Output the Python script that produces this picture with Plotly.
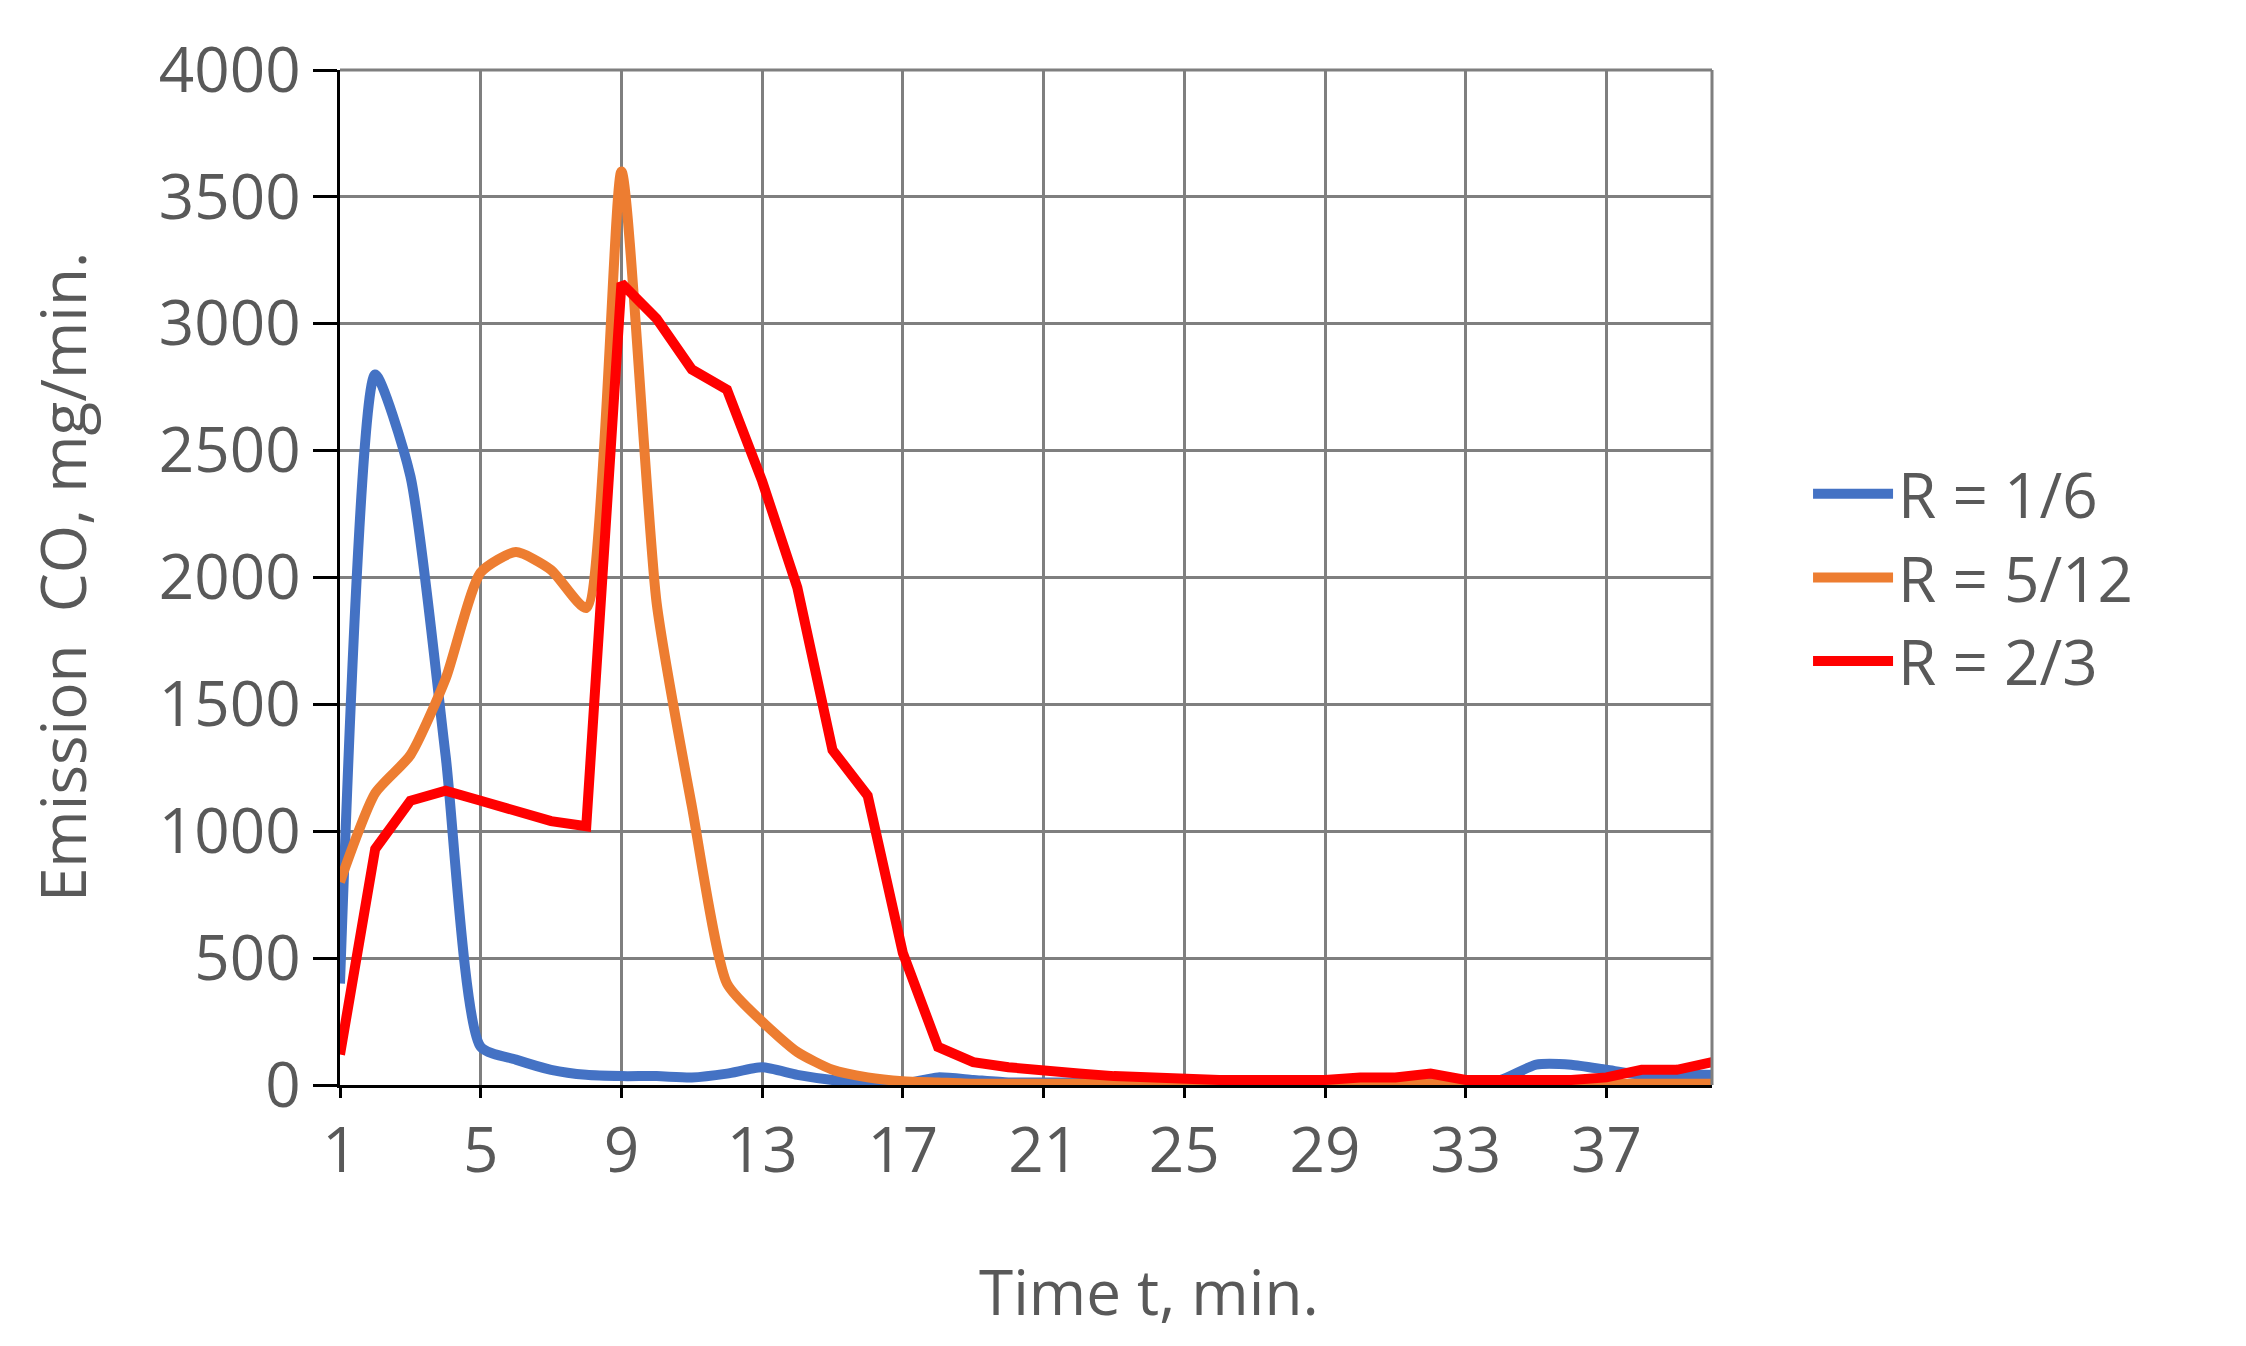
import plotly.graph_objects as go

t = list(range(1, 41))
blue = [400, 2800, 2400, 1300, 150, 100, 60, 40, 35, 35, 30, 45, 70, 40, 20, 10, 5, 30, 20, 10,
        10, 10, 10, 10, 10, 10, 10, 10, 10, 10, 10, 10, 10, 20, 80, 80, 60, 40, 40, 40]
orange = [800, 1150, 1300, 1600, 2020, 2100, 2030, 1880, 3600, 1900, 1100, 400, 250, 130, 60, 30, 15, 10, 5, 5,
          5, 5, 5, 5, 5, 5, 5, 5, 5, 5, 5, 5, 5, 5, 5, 5, 5, 5, 5, 5]
red = [120, 930, 1120, 1160, 1120, 1080, 1040, 1020, 3160, 3020, 2820, 2740, 2380, 1960, 1320, 1140, 520, 150, 90, 70,
       55, 45, 35, 30, 20, 20, 20, 20, 20, 30, 30, 45, 20, 20, 20, 20, 30, 60, 60, 90]
xticks = list(range(1, 41, 4))

fig = go.Figure()
fig.add_trace(go.Scatter(x=t, y=blue, name="R = 1/6", mode="lines",
                         line=dict(color="#4472C4", width=10, shape="spline", smoothing=0.6)))
fig.add_trace(go.Scatter(x=t, y=orange, name="R = 5/12", mode="lines",
                         line=dict(color="#ED7D31", width=10, shape="spline", smoothing=0.6)))
fig.add_trace(go.Scatter(x=t, y=red, name="R = 2/3", mode="lines",
                         line=dict(color="#FF0000", width=10)))

fig.update_layout(
    width=2246, height=1346, plot_bgcolor="white", paper_bgcolor="white",
    margin=dict(l=332, r=542, t=62, b=269),
    font=dict(family="Open Sans", size=62, color="#595959"),
    showlegend=True,
    legend=dict(x=1.07, y=0.5, yanchor="middle", xanchor="left", font=dict(size=62),
                itemwidth=80, tracegroupgap=40),
)
fig.update_xaxes(range=[1, 40], tickvals=xticks, showgrid=True, gridcolor="#7f7f7f", gridwidth=3,
                 showline=True, linecolor="black", linewidth=3, mirror=False,
                 ticks="outside", ticklen=10, tickcolor="black", tickwidth=3, zeroline=False)
fig.update_yaxes(range=[0, 4000], dtick=500, showgrid=True, gridcolor="#7f7f7f", gridwidth=3,
                 showline=True, linecolor="black", linewidth=3,
                 ticks="outside", ticklen=24, tickcolor="black", tickwidth=3, zeroline=False)
fig.add_shape(type="line", xref="paper", yref="paper", x0=0, x1=1, y0=1, y1=1, line=dict(color="#7f7f7f", width=3))
fig.add_shape(type="line", xref="paper", yref="paper", x0=1, x1=1, y0=0, y1=1, line=dict(color="#7f7f7f", width=3))
fig.add_annotation(text="Time t, min.", xref="paper", yref="paper", x=0.59, y=-0.16, yanchor="top",
                   showarrow=False, font=dict(size=62))
fig.add_annotation(text="Emission  CO, mg/min.", xref="paper", yref="paper", x=-0.235, y=0.5,
                   textangle=-90, showarrow=False, font=dict(size=62))
fig.write_html("out.html")
